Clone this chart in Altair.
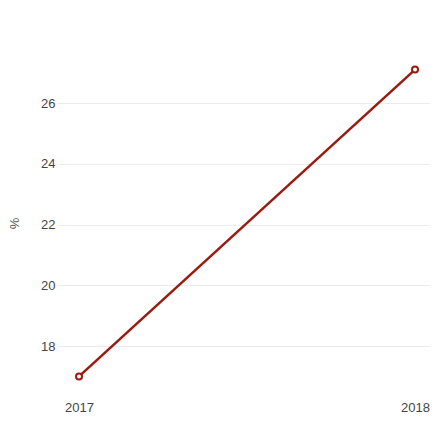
import altair as alt
import pandas as pd

years = [2017, 2018]
values = [17.0, 27.1]

df = pd.DataFrame({"year": years, "value": values})

x = alt.X("year:Q", title=None,
          scale=alt.Scale(domain=[2016.9345, 2018.0446], nice=False, zero=False),
          axis=alt.Axis(values=[2017, 2018], format="d", labelAngle=0, domain=False,
                        ticks=False, grid=False, labelFlush=False,
                        labelFontSize=13, labelColor="#444444", labelPadding=18,
                        labelFont="Liberation Sans"))
y = alt.Y("value:Q", title="%",
          scale=alt.Scale(domain=[16.782, 27.317], nice=False, zero=False),
          axis=alt.Axis(values=[18, 20, 22, 24, 26], domain=False, ticks=False,
                        gridColor="#ececec", gridWidth=1,
                        labelFontSize=13, labelColor="#444444", labelPadding=2,
                        labelFont="Liberation Sans",
                        titleFontSize=13, titleFontWeight="normal", titleColor="#555555",
                        titleFont="Liberation Sans", titlePadding=19))

line = alt.Chart(df).mark_line(color="#9b1a10", strokeWidth=2.5).encode(x=x, y=y)
pts = alt.Chart(df).mark_point(color="#9b1a10", filled=False, fill="white", fillOpacity=1,
                                size=36, strokeWidth=2, opacity=1).encode(x=x, y=y)

chart = (line + pts).properties(
    width=373, height=320,
    autosize=alt.AutoSizeParams(type="none"),
    padding={"left": 49, "top": 55, "right": 0, "bottom": 31},
).configure_view(stroke=None)

chart.save("out.html", embed_options={"renderer": "svg", "actions": False})
